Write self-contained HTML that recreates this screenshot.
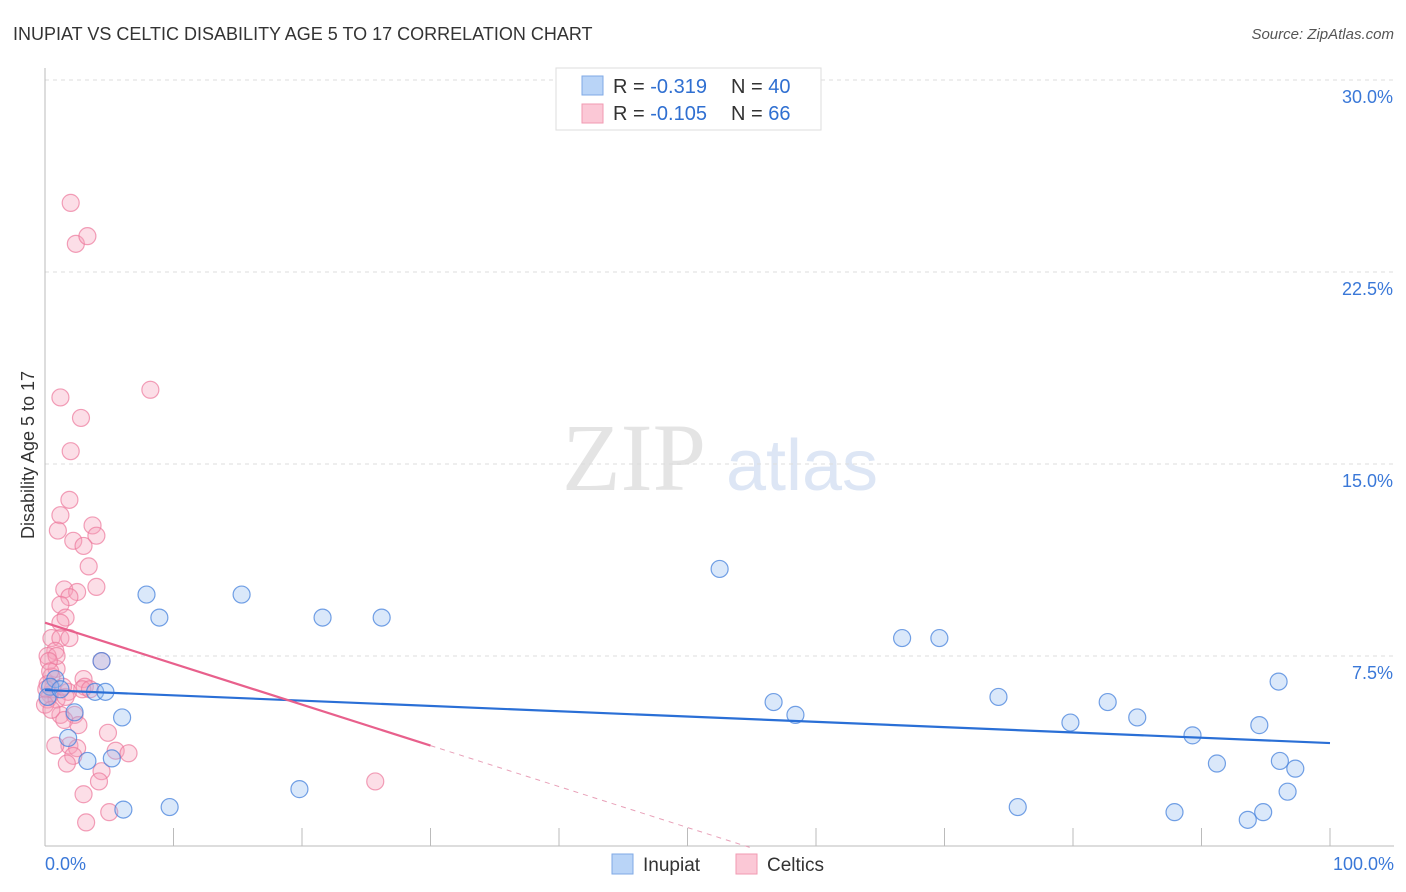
<!DOCTYPE html>
<html><head><meta charset="utf-8"><style>
body{margin:0;background:#fff;font-family:"Liberation Sans",sans-serif;}
svg{display:block}
</style></head><body>
<svg id="chart" width="1406" height="892" viewBox="0 0 1406 892">
<text x="13" y="40" font-size="18" fill="#333">INUPIAT VS CELTIC DISABILITY AGE 5 TO 17 CORRELATION CHART</text>
<text x="1394" y="39" font-size="15" fill="#555" font-style="italic" text-anchor="end">Source: ZipAtlas.com</text>
<g>
<text x="634" y="490" font-size="96" font-family="Liberation Serif,serif" fill="#e4e4e4" text-anchor="middle">ZIP</text>
<text x="802" y="490" font-size="72" fill="#dde6f5" text-anchor="middle">atlas</text>
</g>
<g id="grid"></g>
<g id="axes"></g>
<g id="marks"></g>
<text transform="translate(34,455) rotate(-90)" font-size="18" fill="#333" text-anchor="middle">Disability Age 5 to 17</text>
<g>
<rect x="556" y="68" width="265" height="62" fill="#fff" stroke="#ddd"/>
<rect x="582" y="76" width="21" height="19" fill="#b9d4f7" stroke="#7fa9e6"/>
<rect x="582" y="104" width="21" height="19" fill="#fbc8d6" stroke="#f09ab2"/>
<text x="613" y="93" font-size="20" fill="#333">R = <tspan fill="#2f6fd1">-0.319</tspan><tspan x="731">N = </tspan><tspan fill="#2f6fd1">40</tspan></text>
<text x="613" y="120" font-size="20" fill="#333">R = <tspan fill="#2f6fd1">-0.105</tspan><tspan x="731">N = </tspan><tspan fill="#2f6fd1"> 66</tspan></text>
</g>
<g>
<rect x="612" y="854" width="21" height="20" fill="#b9d4f7" stroke="#7fa9e6"/>
<text x="643" y="871" font-size="19" fill="#333">Inupiat</text>
<rect x="736" y="854" width="21" height="20" fill="#fbc8d6" stroke="#f09ab2"/>
<text x="767" y="871" font-size="19" fill="#333">Celtics</text>
</g>
</svg>
<script>
const yTicks=[7.5,15,22.5,30];
const yTickLabels=["7.5%","15.0%","22.5%","30.0%"];
const xTicks=[0,10,20,30,40,50,60,70,80,90,100];
const inupiatX=[52.5,7.9,15.3,8.9,21.6,26.2,66.7,69.6,4.4,96.0,0.8,0.4,3.9,4.7,74.2,56.7,82.7,58.4,6.0,85.0,79.8,94.5,2.3,1.8,89.3,3.3,5.2,91.2,96.1,97.3,19.8,96.7,9.7,6.1,75.7,87.9,94.8,93.6,0.2,1.2];
const inupiatY=[10.9,9.9,9.9,9.0,9.0,9.0,8.2,8.2,7.3,6.5,6.6,6.3,6.1,6.1,5.9,5.7,5.7,5.2,5.1,5.1,4.9,4.8,5.3,4.3,4.4,3.4,3.5,3.3,3.4,3.1,2.3,2.2,1.6,1.5,1.6,1.4,1.4,1.1,5.9,6.2];
const celticsX=[2.0,2.4,3.3,8.2,1.2,2.8,2.0,1.9,1.2,1.0,3.7,4.0,2.2,3.0,3.4,1.5,4.0,2.5,1.9,1.2,1.6,0.5,1.2,1.9,0.8,0.2,0.9,0.5,0.4,0.6,0.9,0.2,3.0,3.1,1.8,4.4,1.2,2.3,1.5,2.6,1.9,2.5,2.2,4.9,5.5,6.5,4.4,4.2,3.0,5.0,3.2,25.7,0.2,0.9,2.9,0.3,1.6,0.4,1.4,0.1,0.0,0.5,1.2,3.5,0.8,1.7];
const celticsY=[25.2,23.6,23.9,17.9,17.6,16.8,15.5,13.6,13.0,12.4,12.6,12.2,12.0,11.8,11.0,10.1,10.2,10.0,9.8,9.5,9.0,8.2,8.2,8.2,7.7,7.5,7.0,6.7,6.0,6.2,7.5,6.4,6.6,6.3,6.1,7.3,5.2,5.2,5.0,4.8,4.0,3.9,3.6,4.5,3.8,3.7,3.0,2.6,2.1,1.4,1.0,2.6,5.8,5.8,6.2,7.3,5.9,6.9,6.3,6.2,5.6,5.4,8.8,6.2,4.0,3.3];
const inupiatTrend=[6.17,-0.0207];
const celticsTrend=[8.8,-0.16];
const NS="http://www.w3.org/2000/svg";
const X=v=>45+v*12.85, Y=v=>848-v*25.6;
function mk(t,a,p){const e=document.createElementNS(NS,t);for(const k in a)e.setAttribute(k,a[k]);p.appendChild(e);return e;}
const grid=document.getElementById('grid'),axes=document.getElementById('axes'),marks=document.getElementById('marks');
yTicks.forEach((v,i)=>{
 const l=mk('line',{x1:45,x2:1394,y1:Y(v),y2:Y(v),stroke:'#ddd','stroke-dasharray':'4,4'},grid);
 
 
 const t=mk('text',{x:1393,y:Y(v)+23,'font-size':18,fill:'#3a78d8','text-anchor':'end'},axes);
 t.textContent=yTickLabels[i];
 
 
});
const ya=mk('line',{x1:45,x2:45,y1:68,y2:846,stroke:'#bbb'},axes);


const xa=mk('line',{x1:45,x2:1394,y1:846,y2:846,stroke:'#bbb'},axes);


xTicks.forEach(v=>{
 const l=mk('line',{x1:X(v),x2:X(v),y1:828,y2:846,stroke:'#bbb'},axes);
 
 
});
const xl0=mk('text',{x:45,y:870,'font-size':18,fill:'#3a78d8'},axes);xl0.textContent='0.0%';


const xl1=mk('text',{x:1394,y:870,'font-size':18,fill:'#3a78d8','text-anchor':'end'},axes);xl1.textContent='100.0%';


celticsX.forEach((v,i)=>{
 const c=mk('circle',{cx:X(v),cy:Y(celticsY[i]),r:8.5,fill:'rgba(246,160,186,0.35)',stroke:'rgba(236,120,155,0.7)','stroke-width':1.2},marks);
 
 
});
inupiatX.forEach((v,i)=>{
 const c=mk('circle',{cx:X(v),cy:Y(inupiatY[i]),r:8.5,fill:'rgba(150,190,240,0.35)',stroke:'rgba(70,130,220,0.75)','stroke-width':1.2},marks);
 
 
});
const bt=mk('line',{x1:X(0),y1:Y(inupiatTrend[0]),x2:X(100),y2:Y(inupiatTrend[0]+100*inupiatTrend[1]),stroke:'#2a6fd6','stroke-width':2.2},marks);


const pt=mk('line',{x1:X(0),y1:Y(celticsTrend[0]),x2:X(30),y2:Y(celticsTrend[0]+30*celticsTrend[1]),stroke:'#e8608c','stroke-width':2.2},marks);


const xEnd=-celticsTrend[0]/celticsTrend[1];
const pd=mk('line',{x1:X(30),y1:Y(celticsTrend[0]+30*celticsTrend[1]),x2:X(xEnd),y2:Y(0),stroke:'#e8a0b8','stroke-width':1,'stroke-dasharray':'5,5'},marks);


</script>
</body></html>
